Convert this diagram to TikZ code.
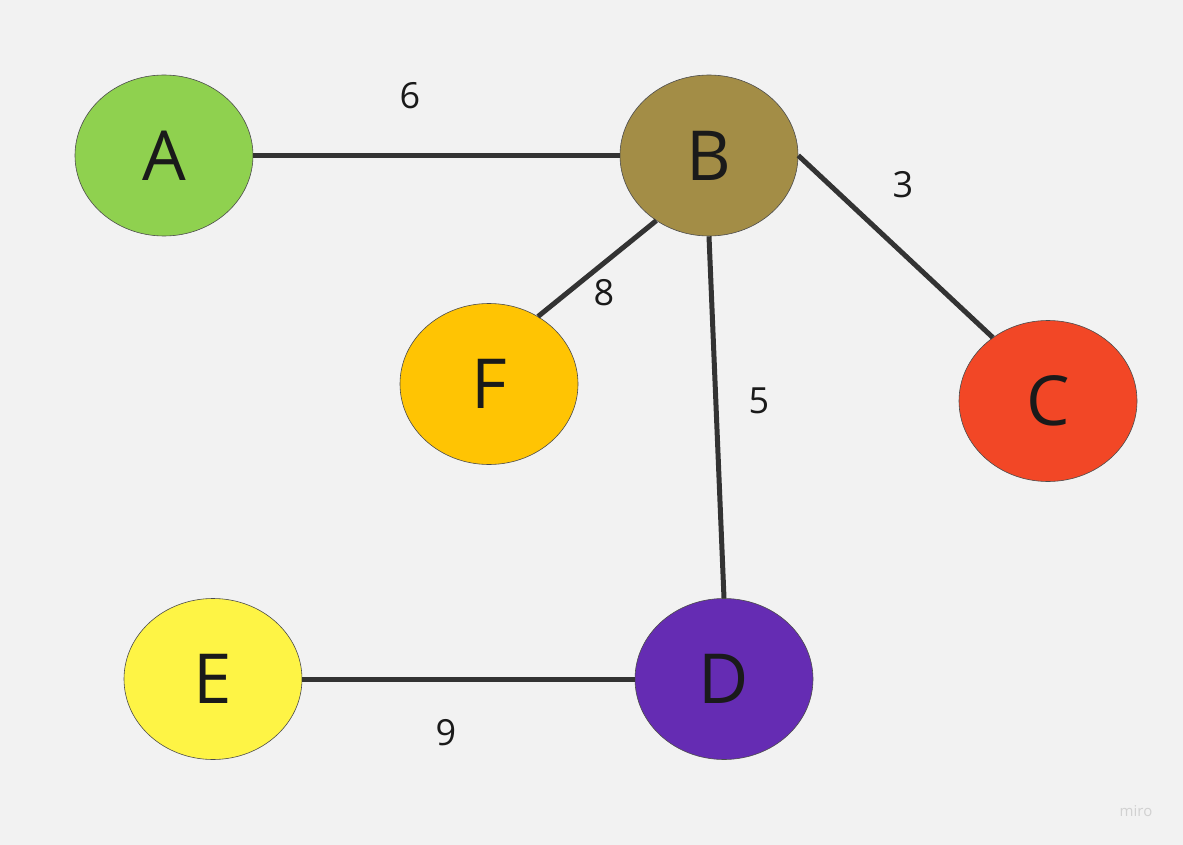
\documentclass[tikz,border=0pt]{standalone}
\usepackage{fontspec}
\setmainfont{Open Sans}
\usetikzlibrary{shapes.geometric}
\definecolor{bg}{HTML}{F2F2F2}
\definecolor{cA}{HTML}{8FD14F}
\definecolor{cB}{HTML}{A38D46}
\definecolor{cC}{HTML}{F24726}
\definecolor{cD}{HTML}{652CB3}
\definecolor{cE}{HTML}{FEF445}
\definecolor{cF}{HTML}{FFC403}
\definecolor{edgec}{HTML}{333333}
\definecolor{txt}{HTML}{1A1A1A}
\tikzset{
  vert/.style={ellipse, draw=black!70, line width=0.6pt, minimum width=178pt, minimum height=161pt, inner sep=0pt, text=txt, font=\fontsize{69}{69}\selectfont},
  edge/.style={draw=edgec, line width=5pt},
  wlab/.style={text=txt, font=\fontsize{36}{36}\selectfont, inner sep=0pt},
}
\begin{document}
\begin{tikzpicture}[x=1pt,y=-1pt]
\fill[bg] (0,0) rectangle (1183,845);
\useasboundingbox (0,0) rectangle (1183,845);
\node[vert, fill=cA] (A) at (164,155.5) {A};
\node[vert, fill=cB] (B) at (709,155.5) {B};
\node[vert, fill=cF] (F) at (489,384) {F};
\node[vert, fill=cC] (C) at (1048,401) {C};
\node[vert, fill=cE] (E) at (213,679) {E};
\node[vert, fill=cD] (D) at (724,679) {D};
\draw[edge] (A.east) -- (B.west);
\draw[edge] (B.east) -- (C.131);
\draw[edge] (B.-129) -- (F.54);
\draw[edge] (B.south) -- (D.north);
\draw[edge] (E.east) -- (D.west);
\node[wlab] (w6) at (410,96) {6};
\node[wlab] (w3) at (903,185) {3};
\node[wlab] (w8) at (604,293) {8};
\node[wlab] (w5) at (759,401) {5};
\node[wlab] (w9) at (446,733) {9};
\node[text=black!18, font=\fontsize{15}{15}\selectfont, inner sep=0pt] (miro) at (1136,811) {miro};
\end{tikzpicture}
\end{document}
